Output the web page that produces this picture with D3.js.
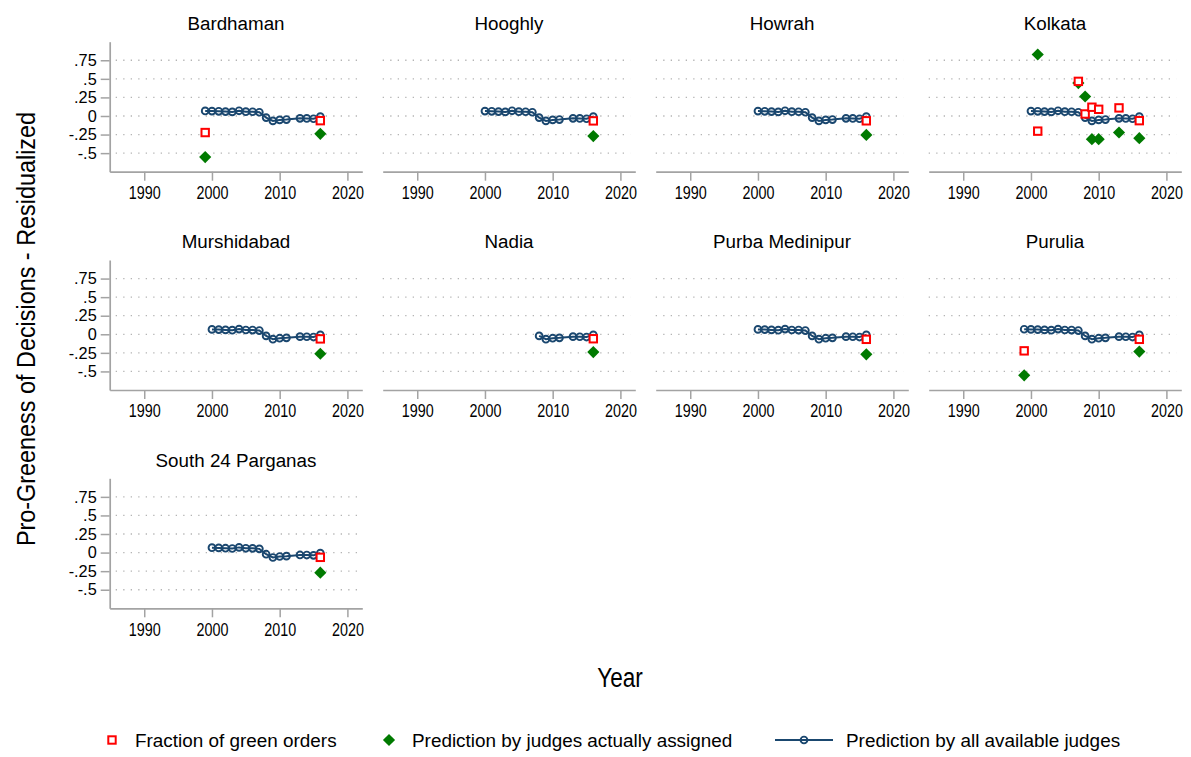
<!DOCTYPE html>
<html><head><meta charset="utf-8">
<script src="https://cdn.jsdelivr.net/npm/d3@7"></script>
<style>
body{margin:0;background:#fff;}
svg{display:block;font-family:"Liberation Sans",Arial,Helvetica,sans-serif;}
</style></head><body>
<svg id="chart" width="1191" height="757"></svg>
<script>
// ---------------- data ----------------
const districts = ["Bardhaman","Hooghly","Howrah","Kolkata","Murshidabad","Nadia","Purba Medinipur","Purulia","South 24 Parganas"];

// Prediction by all available judges (same trend for every district)
const predYears  = [1999, 2000, 2001, 2002, 2003, 2004, 2005, 2006, 2007, 2008, 2009, 2010, 2011, 2013, 2014, 2015, 2016];
const predValues = [0.068, 0.066, 0.063, 0.059, 0.055, 0.070, 0.058, 0.057, 0.050, -0.022, -0.066, -0.053, -0.048, -0.032, -0.033, -0.037, -0.008];
// first year of the prediction line in each district
const predStart = [1999, 2000, 2000, 2000, 2000, 2008, 2000, 1999, 2000];

// Fraction of green orders
const fracYears = [
  [1999, 2016], [2016], [2016],
  [2001, 2007, 2008, 2009, 2010, 2013, 2016],
  [2016], [2016], [2016], [1999, 2016], [2016]
];
const fracValues = [
  [-0.223, -0.063], [-0.066], [-0.065],
  [-0.204, 0.466, 0.027, 0.118, 0.090, 0.109, -0.063],
  [-0.062], [-0.060], [-0.068], [-0.223, -0.068], [-0.064]
];

// Prediction by judges actually assigned
const assignYears = [
  [1999, 2016], [2016], [2016],
  [2001, 2007, 2008, 2009, 2010, 2013, 2016],
  [2016], [2016], [2016], [1999, 2016], [2016]
];
const assignValues = [
  [-0.553, -0.240], [-0.270], [-0.255],
  [0.828, 0.443, 0.262, -0.312, -0.312, -0.222, -0.299],
  [-0.262], [-0.240], [-0.270], [-0.553, -0.233], [-0.270]
];

const xTicks = [1990, 2000, 2010, 2020];
const yTicks = [-0.5, -0.25, 0, 0.25, 0.5, 0.75];
const yTickLabels = ["-.5", "-.25", "0", ".25", ".5", ".75"];
const legendLabels = ["Fraction of green orders", "Prediction by judges actually assigned", "Prediction by all available judges"];

// ---------------- layout ----------------
const svg = d3.select("#chart");
const colX = [109.7, 382.7, 655.7, 928.7];
const rowAxisY = [171.7, 390, 608.3];
const pw = 252.6, ph = 130;

const navy = "#1a476f", red = "#ff0000", green = "#007a00", axisCol = "#a3a3a3";
const sq = 7.4, diamondSize = 74, circR = 3.4;

const x = d3.scaleLinear().domain([1984.9, 2022.2]).range([0, pw]);
const y = d3.scaleLinear().domain([-0.75, 1.0]).range([ph, 0]);

districts.forEach((name, i) => {
  const col = i % 4, row = Math.floor(i / 4);
  const g = svg.append("g").attr("transform", `translate(${colX[col]},${rowAxisY[row] - ph})`);

  // dotted grid
  g.selectAll("line.grid").data(yTicks).enter().append("line")
    .attr("class", "grid")
    .attr("x1", col === 0 ? 6 : 0).attr("x2", pw - 5)
    .attr("y1", d => y(d)).attr("y2", d => y(d))
    .attr("stroke", "#b4b4b4").attr("stroke-width", 1.3)
    .attr("stroke-dasharray", "1.3,6.2");

  // x axis
  const xa = g.append("g").attr("transform", `translate(0,${ph})`)
    .call(d3.axisBottom(x).tickValues(xTicks).tickFormat(d3.format("d")).tickSize(9).tickPadding(6).tickSizeOuter(0));
  xa.select(".domain").attr("stroke", axisCol).attr("stroke-width", 1.7);
  xa.selectAll(".tick line").attr("stroke", axisCol).attr("stroke-width", 1.5);
  xa.selectAll(".tick text").attr("fill", "#000").style("font-size", "17.5px")
    .attr("transform", "scale(0.82,1)");

  // y axis (first column only)
  if (col === 0) {
    const ya = g.append("g")
      .call(d3.axisLeft(y).tickValues(yTicks).tickFormat((d, k) => yTickLabels[k]).tickSize(9).tickPadding(4).tickSizeOuter(0));
    ya.select(".domain").attr("stroke", axisCol).attr("stroke-width", 1.7);
    ya.selectAll(".tick line").attr("stroke", axisCol).attr("stroke-width", 1.5);
    ya.selectAll(".tick text").attr("fill", "#000").style("font-size", "16.3px");
  }

  // title
  g.append("text").attr("x", pw / 2).attr("y", -11.7)
    .attr("text-anchor", "middle").style("font-size", "18.8px").attr("fill", "#000")
    .text(name);

  // green diamonds
  const aData = assignYears[i].map((yr, k) => ({yr, v: assignValues[i][k]}));
  g.selectAll("path.assign").data(aData).enter().append("path")
    .attr("class", "assign")
    .attr("d", d3.symbol().type(d3.symbolSquare).size(diamondSize))
    .attr("transform", d => `translate(${x(d.yr)},${y(d.v)}) rotate(45)`)
    .attr("fill", green);

  // prediction line
  const pData = predYears.map((yr, k) => ({yr, v: predValues[k]})).filter(d => d.yr >= predStart[i]);
  g.append("path").datum(pData)
    .attr("d", d3.line().x(d => x(d.yr)).y(d => y(d.v)))
    .attr("fill", "none").attr("stroke", navy).attr("stroke-width", 2);
  g.selectAll("circle.pred").data(pData).enter().append("circle")
    .attr("class", "pred")
    .attr("cx", d => x(d.yr)).attr("cy", d => y(d.v)).attr("r", circR)
    .attr("fill", "none").attr("stroke", navy).attr("stroke-width", 1.9);

  // red squares
  const fData = fracYears[i].map((yr, k) => ({yr, v: fracValues[i][k]}));
  g.selectAll("rect.frac").data(fData).enter().append("rect")
    .attr("class", "frac")
    .attr("x", d => x(d.yr) - sq / 2).attr("y", d => y(d.v) - sq / 2)
    .attr("width", sq).attr("height", sq)
    .attr("fill", "#fff").attr("stroke", red).attr("stroke-width", 2);
});

// axis titles
svg.append("text").attr("transform", "translate(35,329) rotate(-90) scale(0.9,1)")
  .attr("text-anchor", "middle").style("font-size", "26px").attr("fill", "#000")
  .text("Pro-Greeness of Decisions - Residualized");
svg.append("text").attr("transform", "translate(620,686.5) scale(0.82,1)")
  .attr("text-anchor", "middle").style("font-size", "27.5px").attr("fill", "#000")
  .text("Year");

// legend
const leg = svg.append("g");
const ly = 740;
leg.append("rect").attr("x", 112 - sq / 2).attr("y", ly - sq / 2).attr("width", sq).attr("height", sq)
  .attr("fill", "#fff").attr("stroke", red).attr("stroke-width", 2);
leg.append("path").attr("d", d3.symbol().type(d3.symbolSquare).size(diamondSize))
  .attr("transform", `translate(389,${ly}) rotate(45)`).attr("fill", green);
leg.append("line").attr("x1", 775).attr("x2", 833).attr("y1", ly).attr("y2", ly)
  .attr("stroke", navy).attr("stroke-width", 2);
leg.append("circle").attr("cx", 804).attr("cy", ly).attr("r", circR)
  .attr("fill", "none").attr("stroke", navy).attr("stroke-width", 1.9);
const legX = [135, 412, 846];
leg.selectAll("text").data(legendLabels).enter().append("text")
  .attr("x", (d, k) => legX[k]).attr("y", ly + 7)
  .style("font-size", "18.9px").attr("fill", "#000")
  .text(d => d);
</script>
</body></html>
